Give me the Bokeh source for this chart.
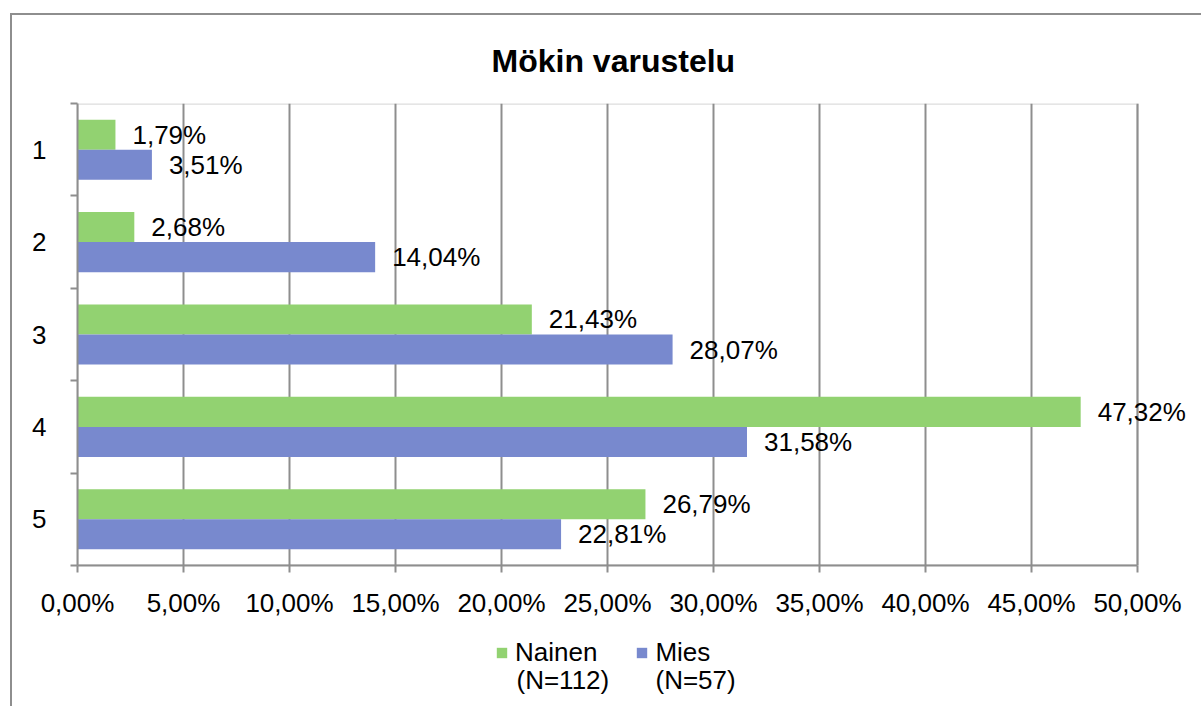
from bokeh.plotting import figure
from bokeh.models import (Range1d, FixedTicker, Legend, LegendItem, ColumnDataSource,
                          Label, BoxAnnotation)
from bokeh.layouts import column
from bokeh.embed import file_html
from bokeh.resources import INLINE
from bokeh.core.properties import value

categories = ["1", "2", "3", "4", "5"]
nainen = [1.79, 2.68, 21.43, 47.32, 26.79]
mies = [3.51, 14.04, 28.07, 31.58, 22.81]
series_names = ["Nainen", "Mies"]
series_n = ["(N=112)", "(N=57)"]
x_ticks = [0, 5, 10, 15, 20, 25, 30, 35, 40, 45, 50]
title_text = "Mökin varustelu"

FONT = value("Liberation Sans")
GREEN = "#92D271"
BLUE = "#7889CE"
GRAY = "#8E8E8E"

pos = list(range(1, len(categories) + 1))
bar_h = 0.325

# geometry (pixels)
P_W = 1189
B_LEFT = 65
B_RIGHT = 4
AXIS_PX = 1060          # pixel length of the 0..50 % axis
X_MAX = x_ticks[-1]
x_end = X_MAX * (P_W - B_LEFT - B_RIGHT) / AXIS_PX
y_top, y_bot = pos[0] - 0.5, pos[-1] + 0.5


def fmt(v):
    return f"{v:.2f}".replace(".", ",") + "%"


src_n = ColumnDataSource(dict(y=[p - bar_h / 2 for p in pos], x=nainen,
                              lab=[fmt(v) for v in nainen]))
src_m = ColumnDataSource(dict(y=[p + bar_h / 2 for p in pos], x=mies,
                              lab=[fmt(v) for v in mies]))

p = figure(width=P_W, height=610, output_backend="svg", toolbar_location=None,
           x_range=Range1d(0, x_end), y_range=Range1d(y_bot, y_top),
           min_border_left=B_LEFT, min_border_right=B_RIGHT, min_border_top=88,
           min_border_bottom=60)

r1 = p.hbar(y="y", right="x", left=0, height=bar_h, source=src_n,
            fill_color=GREEN, line_color=None)
r2 = p.hbar(y="y", right="x", left=0, height=bar_h, source=src_m,
            fill_color=BLUE, line_color=None)

for s in (src_n, src_m):
    p.text(x="x", y="y", text="lab", source=s, x_offset=17,
           text_baseline="middle", text_align="left", text_font=FONT,
           text_font_size="26px", text_color="black")

# title
p.title.text = title_text
p.title.align = "left"
p.title.offset = 414
p.title.text_font = "Liberation Sans"
p.title.text_font_size = "32px"
p.title.text_font_style = "bold"
p.title.text_color = "black"
p.title.standoff = 50

# x axis
p.xaxis.ticker = FixedTicker(ticks=x_ticks)
p.xaxis.bounds = (0, X_MAX)
p.xaxis.major_label_overrides = {t: fmt(t) for t in x_ticks}
p.xaxis.major_label_text_font = "Liberation Sans"
p.xaxis.major_label_text_font_size = "26px"
p.xaxis.major_label_text_color = "black"
p.xaxis.major_tick_out = 7
p.xaxis.major_tick_in = 0
p.xaxis.minor_tick_out = 0
p.xaxis.major_label_standoff = 15
p.xaxis.axis_line_color = GRAY
p.xaxis.axis_line_width = 2
p.xaxis.major_tick_line_color = GRAY
p.xaxis.major_tick_line_width = 2

# y axis
p.yaxis.ticker = FixedTicker(ticks=pos, minor_ticks=[p_ - 0.5 for p_ in pos] + [y_bot])
p.yaxis.major_label_overrides = {i: c for i, c in zip(pos, categories)}
p.yaxis.major_label_text_font = "Liberation Sans"
p.yaxis.major_label_text_font_size = "26px"
p.yaxis.major_label_text_color = "black"
p.yaxis.major_tick_out = 0
p.yaxis.major_tick_in = 0
p.yaxis.minor_tick_out = 7
p.yaxis.minor_tick_in = 0
p.yaxis.major_label_standoff = 24
p.yaxis.axis_line_color = GRAY
p.yaxis.axis_line_width = 2
p.yaxis.minor_tick_line_color = GRAY
p.yaxis.minor_tick_line_width = 2

# grid and plot-area border (0 .. 50 %)
p.ygrid.grid_line_color = None
p.xgrid.grid_line_color = GRAY
p.xgrid.grid_line_width = 2
p.outline_line_color = None
p.add_layout(BoxAnnotation(left=0, right=X_MAX, top=y_top, bottom=y_bot,
                           fill_alpha=0, line_color=GRAY, line_width=2.5, level="underlay"))

# legend area (its frame is aligned with the main plot frame)
p2 = figure(width=P_W, height=81, output_backend="svg", toolbar_location=None,
            x_axis_location=None, y_axis_location=None,
            x_range=Range1d(0, x_end), y_range=Range1d(y_bot, y_top),
            min_border=0, min_border_left=B_LEFT, min_border_right=B_RIGHT,
            outline_line_color=None)
p2.xgrid.grid_line_color = None
p2.ygrid.grid_line_color = None
# legend swatches only (renderers hidden)
l1 = p2.hbar(y="y", right="x", left=0, height=bar_h, source=src_n,
             fill_color=GREEN, line_color=None, visible=False)
l2 = p2.hbar(y="y", right="x", left=0, height=bar_h, source=src_m,
             fill_color=BLUE, line_color=None, visible=False)

legend = Legend(items=[LegendItem(label=series_names[0], renderers=[l1]),
                       LegendItem(label=series_names[1], renderers=[l2])],
                orientation="horizontal", location=(418, 38),
                glyph_width=13, glyph_height=13, label_standoff=7, spacing=38,
                label_text_font="Liberation Sans", label_text_font_size="26px",
                label_text_color="black", label_height=30,
                border_line_alpha=0, background_fill_alpha=0, margin=0, padding=0)
p2.add_layout(legend)

for xs, t in zip([439, 578], series_n):
    p2.add_layout(Label(x=xs, y=27, x_units="screen", y_units="screen", text=t,
                        text_font="Liberation Sans", text_font_size="26px",
                        text_color="black", text_baseline="middle", text_align="left"))

layout = column(p, p2, margin=(13, 0, 0, 10), spacing=0,
                styles={"border-left": "2px solid #8E8E8E", "border-top": "2px solid #8E8E8E"})

open("out.html", "w").write(file_html(layout, INLINE))
